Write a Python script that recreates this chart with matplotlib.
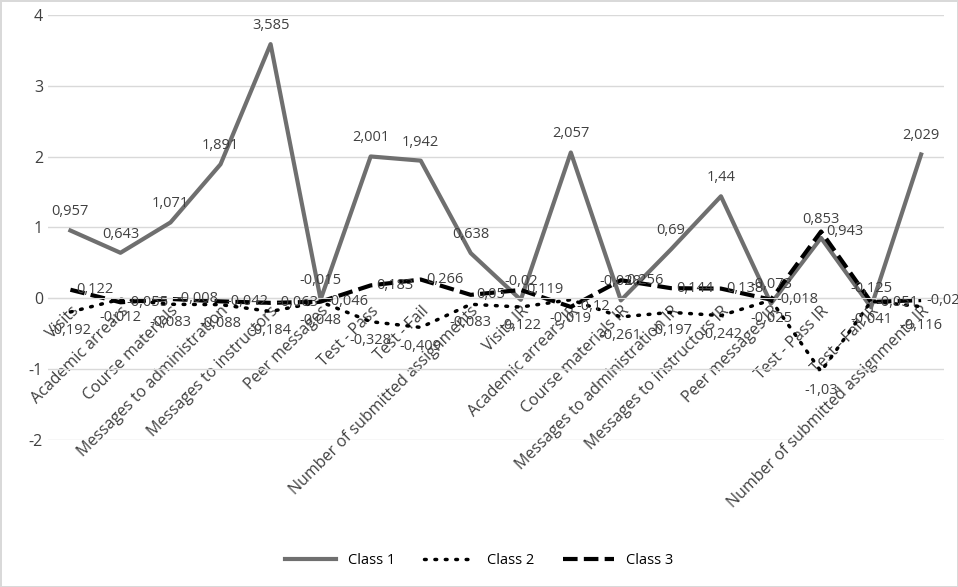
import matplotlib
matplotlib.use("Agg")
import matplotlib.pyplot as plt

categories = ["Visits", "Academic arrears", "Course materials", "Messages to administration",
              "Messages to instructors", "Peer messages", "Test - Pass", "Test - Fail",
              "Number of submitted assignments", "Visits IR", "Academic arrears IR",
              "Course materials IR", "Messages to administration IR", "Messages to instructors IR",
              "Peer messages IR", "Test - Pass IR", "Test - Fail IR",
              "Number of submitted assignments IR"]
class1 = [0.957, 0.643, 1.071, 1.891, 3.585, -0.015, 2.001, 1.942, 0.638, -0.02, 2.057,
          -0.028, 0.69, 1.44, -0.073, 0.853, -0.125, 2.029]
class2 = [-0.192, -0.012, -0.083, -0.088, -0.184, -0.048, -0.328, -0.409, -0.083, -0.122,
          -0.019, -0.261, -0.197, -0.242, -0.025, -1.03, -0.041, -0.116]
class3 = [0.122, -0.055, -0.008, -0.042, -0.063, -0.046, 0.183, 0.266, 0.05, 0.119, -0.12,
          0.256, 0.144, 0.138, -0.018, 0.943, -0.051, -0.024]

def fmt(v):
    s = f"{v:.3f}".rstrip("0").rstrip(".")
    return s.replace(".", ",")

plt.rcParams['font.family'] = ['Open Sans', 'DejaVu Sans']
fig = plt.figure(figsize=(9.58, 5.87), dpi=100)
ax = fig.add_axes([0.05, 0.25, 0.935, 0.725])
x = list(range(len(categories)))
ax.plot(x, class1, color="#6f6f6f", lw=3, label="Class 1")
ax.plot(x, class2, color="black", lw=2.5, ls=(0, (0.5, 2.5)), dash_capstyle="round", label="Class 2")
ax.plot(x, class3, color="black", lw=3, ls=(0, (3.5, 1.5)), label="Class 3")
kw = dict(fontsize=10.5, color="#404040")
for i in x:
    ax.annotate(fmt(class1[i]), (i, class1[i]), xytext=(0, 8), textcoords="offset points", ha="center", va="bottom", **kw)
    ax.annotate(fmt(class2[i]), (i, class2[i]), xytext=(0, -8), textcoords="offset points", ha="center", va="top", **kw)
    ax.annotate(fmt(class3[i]), (i, class3[i]), xytext=(4, 0), textcoords="offset points", ha="left", va="center", **kw)
ax.set_ylim(-2, 4)
ax.set_xlim(-0.45, len(categories) - 0.55)
ax.set_yticks(range(-2, 5))
ax.set_yticklabels([str(v) for v in range(-2, 5)], fontsize=11.5, color="#404040")
ax.grid(axis="y", color="#d9d9d9", lw=1)
ax.set_axisbelow(True)
for s in ["top", "right", "left"]:
    ax.spines[s].set_visible(False)
ax.spines["bottom"].set_position(("data", 0))
ax.spines["bottom"].set_color("#d9d9d9")
ax.tick_params(axis="both", length=0)
ax.set_xticks(x)
ax.set_xticklabels(categories, rotation=45, ha="right", rotation_mode="anchor", fontsize=11.5, color="#404040")
fig.legend(loc="lower center", ncol=3, frameon=False, fontsize=10.5, handlelength=3.5, bbox_to_anchor=(0.5, 0.01))
fig.patch.set_edgecolor("#d9d9d9")
fig.patch.set_linewidth(1)
fig.savefig("out.png", dpi=100, edgecolor=fig.get_edgecolor())
